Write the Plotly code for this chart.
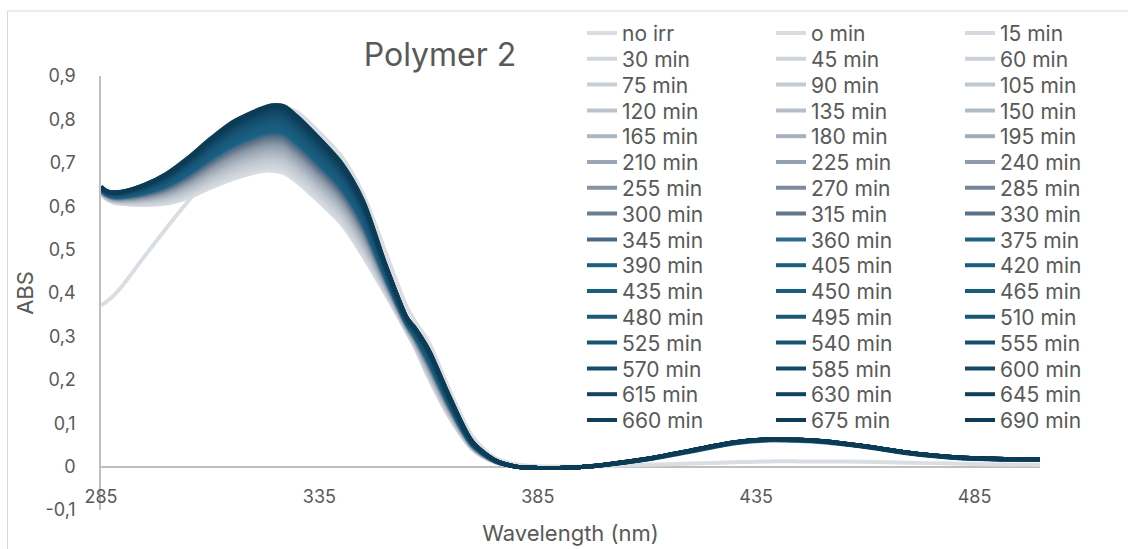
import plotly.graph_objects as go

# ---------------- data ----------------
WAVELENGTH = [285, 286, 287, 288, 290, 295, 300, 305, 310, 315, 320, 323, 325, 327,
              330, 335, 340, 345, 350, 355, 357, 360, 365, 370, 375, 380, 385, 390,
              395, 400, 410, 420, 430, 438, 445, 450, 460, 470, 480, 490, 500]

NO_IRR = [0.372, 0.378, 0.386, 0.395, 0.418, 0.485, 0.550, 0.612, 0.670, 0.728, 0.782,
          0.810, 0.820, 0.826, 0.816, 0.770, 0.715, 0.628, 0.498, 0.368, 0.333, 0.287,
          0.172, 0.070, 0.021, 0.005, 0.001, 0.000, 0.000, 0.001, 0.004, 0.007, 0.010,
          0.012, 0.012, 0.012, 0.011, 0.009, 0.007, 0.005, 0.004]

# spectrum at 0 min of irradiation (lower edge of the band)
FIRST_SCAN = [0.628, 0.618, 0.612, 0.608, 0.605, 0.603, 0.606, 0.620, 0.642, 0.662, 0.677,
              0.682, 0.681, 0.676, 0.655, 0.610, 0.560, 0.485, 0.400, 0.310, 0.272, 0.205,
              0.110, 0.040, 0.011, 0.000, -0.003, -0.003, -0.001, 0.003, 0.016, 0.034, 0.053,
              0.060, 0.059, 0.056, 0.045, 0.030, 0.020, 0.016, 0.015]

# spectrum at 690 min of irradiation (upper edge of the band)
LAST_SCAN = [0.645, 0.637, 0.633, 0.632, 0.634, 0.650, 0.675, 0.712, 0.755, 0.793, 0.818,
             0.830, 0.833, 0.830, 0.806, 0.756, 0.700, 0.613, 0.470, 0.344, 0.318, 0.270,
             0.157, 0.058, 0.016, 0.000, -0.003, -0.003, -0.001, 0.004, 0.018, 0.037, 0.056,
             0.063, 0.062, 0.059, 0.047, 0.032, 0.022, 0.018, 0.017]

# fraction of the total change reached at each irradiation time (o min ... 690 min)
PROGRESS = [0.000, 0.030, 0.060, 0.085, 0.110, 0.135, 0.160, 0.185, 0.210, 0.235, 0.260,
            0.285, 0.310, 0.335, 0.360, 0.385, 0.410, 0.435, 0.455, 0.475, 0.495, 0.515,
            0.535, 0.560, 0.580, 0.600, 0.620, 0.640, 0.660, 0.680, 0.700, 0.720, 0.740,
            0.760, 0.780, 0.800, 0.820, 0.840, 0.860, 0.880, 0.900, 0.920, 0.940, 0.955,
            0.970, 0.985, 1.000]

SERIES_NAMES = ["no irr", "o min", "15 min", "30 min", "45 min", "60 min", "75 min",
                "90 min", "105 min", "120 min", "135 min", "150 min", "165 min", "180 min",
                "195 min", "210 min", "225 min", "240 min", "255 min", "270 min", "285 min",
                "300 min", "315 min", "330 min", "345 min", "360 min", "375 min", "390 min",
                "405 min", "420 min", "435 min", "450 min", "465 min", "480 min", "495 min",
                "510 min", "525 min", "540 min", "555 min", "570 min", "585 min", "600 min",
                "615 min", "630 min", "645 min", "660 min", "675 min", "690 min"]

X_TICKS = [285, 335, 385, 435, 485]
Y_TICKS = [-0.1, 0.0, 0.1, 0.2, 0.3, 0.4, 0.5, 0.6, 0.7, 0.8, 0.9]
Y_TICK_LABELS = ["-0,1", "0", "0,1", "0,2", "0,3", "0,4", "0,5", "0,6", "0,7", "0,8", "0,9"]

# ---------------- style ----------------
COLORS = ["#d9dee3", "#d7dce1", "#d4dadf", "#d1d7dd", "#ced4db", "#cbd1d8",
          "#c7ced5", "#c3cad2", "#bfc7cf", "#bbc3cc", "#b6bfc9", "#b1bbc5",
          "#acb6c1", "#a6b1bd", "#a0abb8", "#9aa6b3", "#93a0ae", "#8c9aa9",
          "#8593a3", "#7d8c9d", "#748597", "#6b7e91", "#62778c", "#587088",
          "#4b6a88", "#2e6a8b", "#1c6384", "#1a6082", "#1a5f80", "#1a5e7f",
          "#1a5d7e", "#195c7d", "#195b7b", "#19597a", "#185878", "#185676",
          "#175474", "#165272", "#154f6f", "#144d6c", "#134a69", "#124866",
          "#114563", "#104360", "#0f415d", "#0e3f5b", "#0d3d58", "#0c3b55"]

FONT = "Inter"
TXT = "#595959"
W, H = 1128, 549
ML, MR, MT, MB = 101, 88, 76, 39
LEG_FONT = 21
ROW0, ROW_STEP = 33, 25.8
COL_TEXT_X = 622
ENTRY_W = 144

plot_w = W - ML - MR
plot_h = H - MT - MB


def px_to_paper_x(px):
    return (px - ML) / plot_w


def px_to_paper_y(py):
    return (H - MB - py) / plot_h


fig = go.Figure()

series_values = [NO_IRR]
for p in PROGRESS:
    series_values.append([f + p * (l - f) for f, l in zip(FIRST_SCAN, LAST_SCAN)])

for i, (name, vals) in enumerate(zip(SERIES_NAMES, series_values)):
    row = i // 3
    leg = "legend" if row == 0 else f"legend{row + 1}"
    fig.add_trace(go.Scatter(
        x=WAVELENGTH, y=vals, name=name, mode="lines",
        line=dict(color=COLORS[i], width=4, shape="spline", smoothing=0.8),
        legend=leg, hoverinfo="skip",
    ))

n_rows = (len(SERIES_NAMES) + 2) // 3
item_h = 1.3 * LEG_FONT + 3
legends = {}
for r in range(n_rows):
    key = "legend" if r == 0 else f"legend{r + 1}"
    center = ROW0 + ROW_STEP * r
    top = center - (item_h / 2 + 5)
    legends[key] = dict(
        orientation="h", xref="paper", yref="paper",
        x=px_to_paper_x(COL_TEXT_X - 40), xanchor="left",
        y=px_to_paper_y(top), yanchor="top",
        entrywidth=ENTRY_W, entrywidthmode="pixels",
        bgcolor="rgba(0,0,0,0)", borderwidth=0,
        font=dict(family=FONT, size=LEG_FONT, color=TXT),
        traceorder="normal", itemclick=False, itemdoubleclick=False,
    )

fig.update_layout(
    width=W, height=H,
    margin=dict(l=ML, r=MR, t=MT, b=MB, pad=0, autoexpand=False),
    paper_bgcolor="white", plot_bgcolor="white",
    font=dict(family=FONT, color=TXT),
    title=dict(text="Polymer 2", x=440 / W, xref="container", xanchor="center",
               y=1 - 55 / H, yref="container", yanchor="middle",
               font=dict(family=FONT, size=32, color=TXT)),
    showlegend=True,
    **legends,
    xaxis=dict(
        range=[285, 500], tickvals=X_TICKS, ticktext=[str(t) for t in X_TICKS],
        showgrid=False, zeroline=False, showline=False, ticks="",
        anchor="free", position=(26 / plot_h),
        tickfont=dict(family=FONT, size=18, color=TXT),
        title=dict(text="Wavelength (nm)", font=dict(family=FONT, size=22, color=TXT),
                   standoff=19),
    ),
    yaxis=dict(
        range=[-0.1, 0.9], tickvals=Y_TICKS, ticktext=Y_TICK_LABELS,
        showgrid=False, zeroline=True, zerolinecolor="#bfbfbf", zerolinewidth=1.5,
        showline=True, linecolor="#bfbfbf", linewidth=1.5, ticks="",
        ticklabelstandoff=20,
        tickfont=dict(family=FONT, size=18, color=TXT),
        title=dict(text="ABS", font=dict(family=FONT, size=22, color=TXT), standoff=6),
    ),
)

# chart-area border (light grey frame around the chart)
fig.add_shape(type="rect", xref="paper", yref="paper",
              x0=px_to_paper_x(7.5), x1=px_to_paper_x(1140),
              y0=px_to_paper_y(560), y1=px_to_paper_y(11),
              line=dict(color="#d9d9d9", width=1), fillcolor="rgba(0,0,0,0)", layer="below")

fig.write_html("out.html")
